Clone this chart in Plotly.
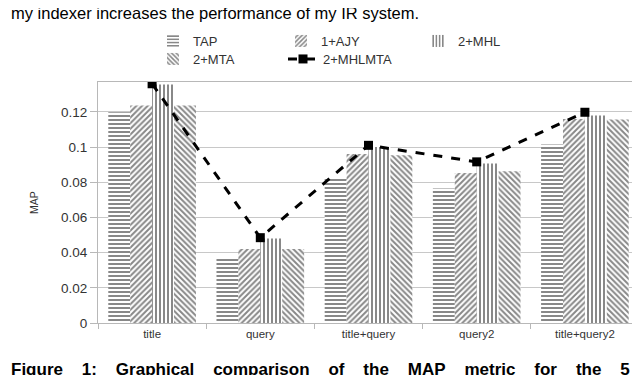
import plotly.graph_objects as go

categorias = ["title", "query", "title+query", "query2", "title+query2"]
tap = [0.1198, 0.0375, 0.0825, 0.0764, 0.1014]
ajy = [0.1236, 0.0420, 0.0960, 0.0853, 0.1160]
mhl = [0.1356, 0.0480, 0.1000, 0.0906, 0.1180]
mta = [0.1236, 0.0420, 0.0954, 0.0863, 0.1157]
mhlmta = [0.1360, 0.0485, 0.1010, 0.0916, 0.1198]

# Área del gráfico en píxeles
L, R, T, B = 90, 9, 74, 60
W, H = 640, 375
pw, ph = W - L - R, H - T - B


def px_x(x):
    return (x - L) / pw


def px_y(y):
    return (H - B - y) / ph


fuente = "Liberation Sans, Arial, sans-serif"
gris = "#333333"

fig = go.Figure()

series = [
    ("TAP", tap, "-", "legend"),
    ("1+AJY", ajy, "/", "legend2"),
    ("2+MHL", mhl, "|", "legend3"),
    ("2+MTA", mta, "\\", "legend4"),
]
for nombre, valores, forma, leyenda in series:
    fig.add_trace(go.Bar(
        x=categorias,
        y=valores,
        name=nombre,
        legend=leyenda,
        marker=dict(
            color="white",
            line=dict(width=0),
            pattern=dict(shape=forma, fgcolor="#111111", bgcolor="white",
                         size=4, solidity=0.5),
        ),
    ))

fig.add_trace(go.Scatter(
    x=categorias,
    y=mhlmta,
    name="2+MHLMTA",
    legend="legend5",
    mode="lines+markers",
    line=dict(color="black", width=3, dash="dash"),
    marker=dict(symbol="square", size=9, color="black"),
))

leyenda_base = dict(
    orientation="h",
    xanchor="left",
    yanchor="middle",
    font=dict(size=13, color=gris),
    bgcolor="rgba(0,0,0,0)",
)

fig.update_layout(
    width=W,
    height=H,
    margin=dict(l=L, r=R, t=T, b=B),
    paper_bgcolor="white",
    plot_bgcolor="white",
    font=dict(family=fuente, size=11, color=gris),
    barmode="group",
    bargap=0.19,
    bargroupgap=0,
    showlegend=True,
    # una leyenda por elemento para fijar la posición de cada uno
    legend=dict(leyenda_base, x=px_x(145), y=px_y(33)),
    legend2=dict(leyenda_base, x=px_x(273), y=px_y(33)),
    legend3=dict(leyenda_base, x=px_x(410), y=px_y(33)),
    legend4=dict(leyenda_base, x=px_x(145), y=px_y(51)),
    legend5=dict(leyenda_base, x=px_x(275), y=px_y(51)),
    xaxis=dict(
        type="category",
        showgrid=False,
        showline=True,
        linecolor="#b8b8b8",
        mirror=True,
        ticks="outside",
        tickson="boundaries",
        ticklen=5,
        tickcolor="#b8b8b8",
        tickfont=dict(size=11.5, color=gris),
    ),
    yaxis=dict(
        title=dict(text="MAP", font=dict(size=10.5, color=gris), standoff=20),
        range=[0, 0.137],
        tickvals=[0, 0.02, 0.04, 0.06, 0.08, 0.1, 0.12],
        ticktext=["0", "0.02", "0.04", "0.06", "0.08", "0.1", "0.12"],
        showgrid=True,
        gridcolor="#c8c8c8",
        gridwidth=1,
        showline=True,
        linecolor="#b8b8b8",
        mirror=True,
        ticks="outside",
        ticklen=7,
        tickcolor="#b8b8b8",
        tickfont=dict(size=13.5, color=gris),
        zeroline=False,
    ),
)

# Textos de la página que rodean la figura
fig.add_annotation(
    text="my indexer increases the performance of my IR system.",
    xref="paper", yref="paper",
    x=px_x(1), y=px_y(5),
    xanchor="left", yanchor="middle",
    showarrow=False,
    font=dict(family=fuente, size=16.5, color="black"),
)
esp = "&nbsp;&nbsp;&nbsp; "
pie = esp.join(["Figure", "1:", "Graphical", "comparison", "of", "the",
                "MAP", "metric", "for", "the", "5"])
fig.add_annotation(
    text="<b>" + pie + "</b>",
    xref="paper", yref="paper",
    x=px_x(1), y=px_y(361),
    xanchor="left", yanchor="middle",
    showarrow=False,
    font=dict(family=fuente, size=17, color="black"),
)

fig.write_html("out.html")
